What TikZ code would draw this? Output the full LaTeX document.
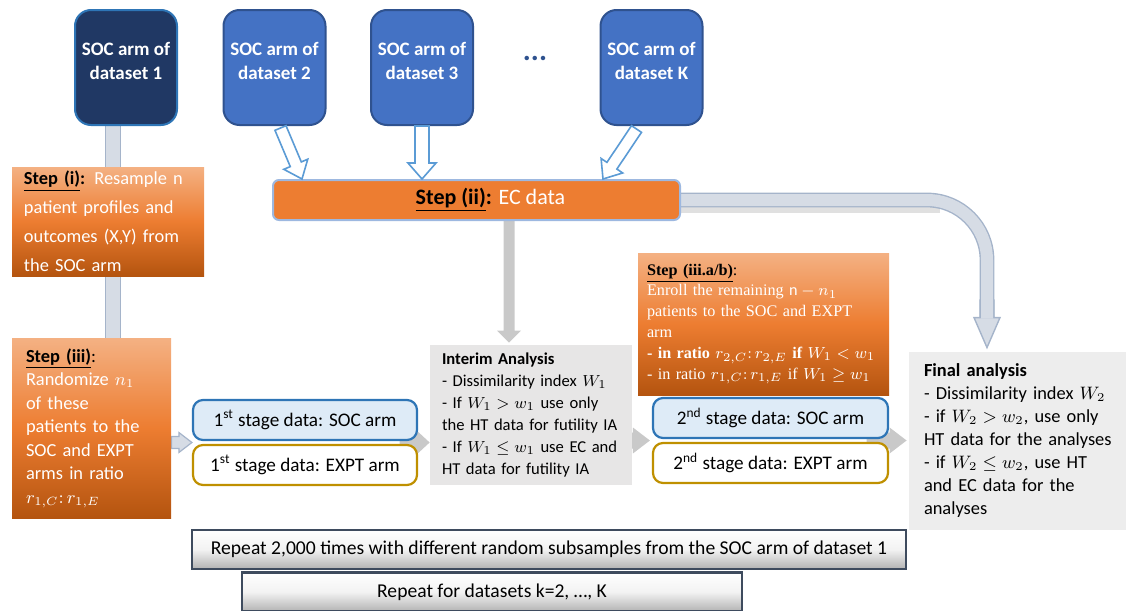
\documentclass[tikz,border=0pt]{standalone}
\usepackage{fontspec}
\setmainfont{Carlito}
\newfontfamily\timesfont{Liberation Serif}
\usepackage{amsmath}
\usepackage{amssymb}
\usetikzlibrary{calc,backgrounds}

\definecolor{socdark}{HTML}{203864}
\definecolor{socblue}{HTML}{4472C4}
\definecolor{socedge}{HTML}{2F528F}
\definecolor{lightedge}{HTML}{2E75B6}
\definecolor{ecedge}{HTML}{9DB8E0}
\definecolor{orangetop}{HTML}{F4B183}
\definecolor{orangemid}{HTML}{ED7D31}
\definecolor{orangebot}{HTML}{B4540F}
\definecolor{bandfill}{HTML}{D6DCE5}
\definecolor{bandedge}{HTML}{A5B4CA}
\definecolor{flowgray}{HTML}{C9C9C9}
\definecolor{stagefill}{HTML}{DEEBF7}
\definecolor{exptedge}{HTML}{BF9000}
\definecolor{interimfill}{HTML}{E7E6E6}
\definecolor{finalfill}{HTML}{EDEDED}
\definecolor{hollowedge}{HTML}{5B9BD5}
\definecolor{repeatedge}{HTML}{3E4B5E}

% block arrow from #2 to tip #3: half shaft #4, half head #5, head length #6
\newcommand{\blockarrow}[6][]{%
	\coordinate (ba-neck) at ($(#3)!#6!(#2)$);
	\filldraw[#1] ($(#2)!#4!90:(#3)$) -- ($(ba-neck)!#4!90:(#3)$) -- ($(ba-neck)!#5!90:(#3)$) -- (#3)
		-- ($(ba-neck)!#5!-90:(#3)$) -- ($(ba-neck)!#4!-90:(#3)$) -- ($(#2)!#4!-90:(#3)$) -- cycle;}
% ratio r_{a,C}:r_{a,E}
\newcommand{\armratio}[1]{r_{#1,C}\mathpunct{:}r_{#1,E}}

\begin{document}
\begin{tikzpicture}[x=0.5pt, y=-0.5pt,
	socbox/.style={draw=socedge, fill=socblue, line width=1pt, rounded corners=8pt, minimum width=51pt, minimum height=57.5pt, text=white, align=center, font=\fontsize{9.5}{12}\selectfont\bfseries},
	stepbox/.style={top color=orangetop, bottom color=orangebot, middle color=orangemid, text=white, align=left, inner xsep=6pt, inner ysep=0pt},
	stagesoc/.style={draw=lightedge, fill=stagefill, line width=1.1pt, rounded corners=5pt, minimum width=112pt, minimum height=20pt, font=\fontsize{9.6}{11}\selectfont},
	stageexpt/.style={stagesoc, draw=exptedge, fill=white},
	infobox/.style={fill=interimfill, align=left, inner xsep=6pt, inner ysep=0pt},
	repeatbox/.style={draw=repeatedge, line width=1.2pt, top color=white, bottom color=black!30, middle color=white!95!black, minimum height=19.5pt, font=\fontsize{9.8}{11}\selectfont},
	band/.style={draw=bandedge, line width=0.7pt, double=bandfill},
	hollow/.style={draw=hollowedge, fill=white, line width=0.8pt},
	grayflow/.style={fill=flowgray, draw=none}]
	\useasboundingbox (0,0) rectangle (1126,611);

	% SOC arms of the datasets
	\node[socbox, fill=socdark, draw=lightedge] (soc1) at (126,67.5) {SOC arm of\\dataset 1\\[-5pt]\mbox{}};
	\node[socbox] (soc2) at (274.5,67.5) {SOC arm of\\dataset 2\\[-5pt]\mbox{}};
	\node[socbox] (soc3) at (422,67.5) {SOC arm of\\dataset 3\\[-5pt]\mbox{}};
	\node[text=socedge, font=\fontsize{15}{15}\selectfont\bfseries] (dots) at (535,58) {...};
	\node[socbox] (sock) at (651.5,67.5) {SOC arm of\\dataset K\\[-5pt]\mbox{}};

	% Steps
	\node[draw=ecedge, fill=orangemid, line width=1pt, rounded corners=3pt, minimum width=203.5pt, minimum height=20pt,
		text=white, font=\fontsize{11}{13}\selectfont] (step2) at (476.5,200)
		{\hspace*{14pt}\textcolor{black}{\textbf{\underline{Step (ii)}:}} EC data};
	\node[stepbox, text width=84pt, minimum height=54.5pt, font=\fontsize{9.2}{14.5}\selectfont] (step1) at (108,221.5)
		{\textcolor{black}{\textbf{\underline{Step (i)}:}} Resample n\\patient profiles and\\outcomes (X,Y) from\\the SOC arm};
	\node[stepbox, inner xsep=7pt, text width=65.5pt, minimum height=90pt, font=\fontsize{9.2}{11.75}\selectfont] (step3) at (91.5,428)
		{\textcolor{black}{\textbf{\underline{Step (iii)}}:}\\Randomize $n_1$\\of these\\patients to the\\SOC and EXPT\\arms in ratio\\$\armratio{1}$};
	\node[stepbox, inner xsep=4.5pt, text width=116.5pt, minimum height=71pt, font=\timesfont\fontsize{8.1}{10.4}\selectfont] (step3ab) at (763.5,324)
		{\textcolor{black}{\textbf{\underline{Step (iii.a/b)}}:}\\Enroll the remaining $\mathrm{n}-n_1$\\patients to the SOC and EXPT\\arm\\
		{\bfseries - in ratio $\armratio{2}$ if $W_1<w_1$}\\- in ratio $\armratio{1}$ if $W_1\geq w_1$};

	% Stage data
	\node[stagesoc] (soc1st) at (305,420) {1\textsuperscript{st} stage data: SOC arm};
	\node[stageexpt] (expt1st) at (305,465) {1\textsuperscript{st} stage data: EXPT arm};
	\node[stagesoc, minimum width=117.5pt] (soc2nd) at (770.5,418) {2\textsuperscript{nd} stage data: SOC arm};
	\node[stageexpt, minimum width=117.5pt] (expt2nd) at (770.5,463) {2\textsuperscript{nd} stage data: EXPT arm};

	% Analyses
	\node[infobox, text width=89pt, minimum height=70pt, font=\fontsize{8.3}{11}\selectfont] (interim) at (531,415)
		{\textbf{Interim Analysis}\\- Dissimilarity index $W_1$\\- If $W_1>w_1$ use only\\the HT data for futility IA\\- If $W_1\leq w_1$ use EC and\\HT data for futility IA};
	\node[infobox, fill=finalfill, inner xsep=7.5pt, text width=100pt, minimum height=89pt, font=\fontsize{9.2}{11.5}\selectfont] (final) at (1024,441)
		{\textbf{Final analysis}\\- Dissimilarity index $W_2$\\- if $W_2>w_2$, use only\\HT data for the analyses\\- if $W_2\leq w_2$, use HT\\and EC data for the\\analyses};

	% Repeats
	\node[repeatbox, minimum width=357pt] (rep1) at (549,549.5) {Repeat 2,000 times with different random subsamples from the SOC arm of dataset 1};
	\node[repeatbox, minimum width=250pt] (rep2) at (492,592) {Repeat for datasets k=2, \dots, K};

	% Coordinates
	\coordinate (soc1-out) at ($(soc1.south)+(-13,0)$);
	\coordinate (gap1) at ($(soc1st.south west)!0.5!(expt1st.north west)$);
	\coordinate (gap2) at ($(soc2nd.south west)!0.5!(expt2nd.north west)$);
	\coordinate (s3-out) at (step3.east |- gap1);
	\coordinate (ia-in) at (interim.west |- gap1);
	\coordinate (ia-back) at ($(ia-in)+(-30,0)$);
	\coordinate (ia-out) at ($(interim.east |- gap2)+(-12,0)$);
	\coordinate (s2-in) at ($(soc2nd.west |- gap2)+(-2,0)$);
	\coordinate (fa-in) at ($(final.west |- gap2)+(-2,0)$);
	\coordinate (fa-back) at ($(fa-in)+(-40,0)$);
	\coordinate (ec-out) at (509,0 |- step2.south);
	\coordinate (ec-down) at ($(509,0 |- interim.north)+(0,-2)$);
	\coordinate (fa-top) at ($(987,0 |- final.north)+(0,-4)$);
	\coordinate (fa-neck) at (987,318);
	\coordinate (fa-stem) at (987,300);

	\begin{pgfonlayer}{background}
		% SOC arm of dataset 1 down to the steps
		\draw[band, double distance=7pt] (soc1-out) -- (soc1-out |- step3.north);

		% EC data across to the final analysis
		\blockarrow[fill=bandfill, draw=bandedge, line width=0.7pt]{fa-stem}{fa-top}{3.5pt}{6.5pt}{15pt}
		\draw[black!12, line width=9pt, transform canvas={yshift=-2pt}] (step2.east) -- (940,0 |- step2.east);
		\draw[band, double distance=6pt, rounded corners=30pt] (step2.east) -- (987,0 |- step2.east) -- (fa-neck);

		% Flow between the stages
		\blockarrow[fill=bandfill, draw=bandedge, line width=0.6pt]{s3-out}{gap1}{3pt}{5pt}{6.5pt}
		\blockarrow[grayflow]{ia-back}{ia-in}{4pt}{6.5pt}{7pt}
		\blockarrow[grayflow]{ia-out}{s2-in}{4pt}{6.5pt}{8.5pt}
		\blockarrow[grayflow]{fa-back}{fa-in}{4pt}{6.5pt}{8.5pt}
		\blockarrow[grayflow]{ec-out}{ec-down}{2.75pt}{6pt}{6pt}
	\end{pgfonlayer}

	% Hollow arrows into the EC data
	\coordinate (soc2-out) at ($(soc2.south)+(6,2)$);
	\coordinate (sock-out) at ($(sock.south)+(-15,3)$);
	\blockarrow[hollow]{soc2-out}{302,0 |- step2.north}{3pt}{6.5pt}{8pt}
	\blockarrow[hollow]{soc3.south}{soc3.south |- step2.north}{3.5pt}{7pt}{8pt}
	\blockarrow[hollow]{sock-out}{603,0 |- step2.north}{3pt}{6.5pt}{8pt}
\end{tikzpicture}
\end{document}
